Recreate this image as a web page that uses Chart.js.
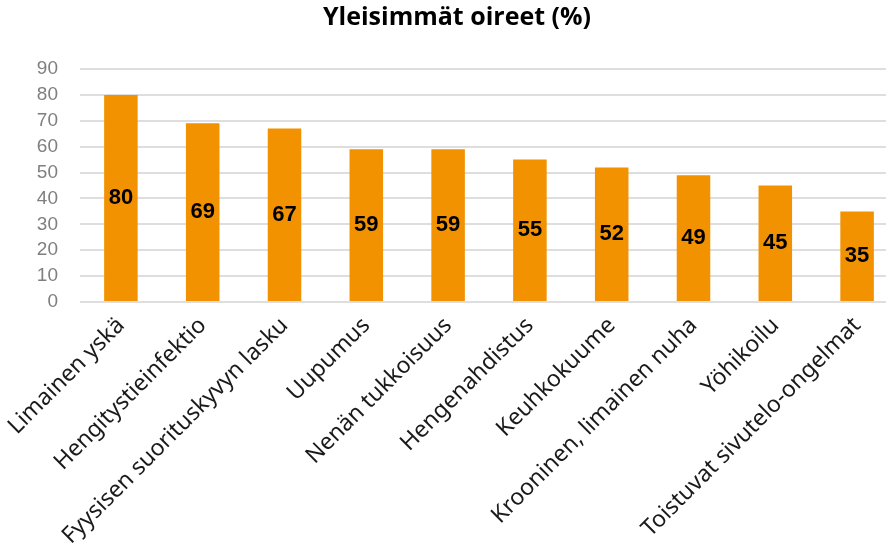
<!DOCTYPE html>
<html>
<head>
<meta charset="utf-8">
<script src="https://cdn.jsdelivr.net/npm/chart.js@4/dist/chart.umd.min.js"></script>
<style>
  html, body { margin: 0; padding: 0; background: #fff; overflow: hidden; }
  #wrap { width: 898px; height: 549px; }
</style>
</head>
<body>
<div id="wrap"><canvas id="symptomChart" width="898" height="549"></canvas></div>
<script>
// ─── data ───
const categories = [
    'Limainen yskä',
    'Hengitystieinfektio',
    'Fyysisen suorituskyvyn lasku',
    'Uupumus',
    'Nenän tukkoisuus',
    'Hengenahdistus',
    'Keuhkokuume',
    'Krooninen, limainen nuha',
    'Yöhikoilu',
    'Toistuvat sivutelo-ongelmat'
];
const percentages = [80, 69, 67, 59, 59, 55, 52, 49, 45, 35];
const yTicks = [0, 10, 20, 30, 40, 50, 60, 70, 80, 90];

// value labels drawn in the middle of each bar
const barValueLabels = {
    id: 'barValueLabels',
    afterDatasetsDraw(chart) {
        const { ctx } = chart;
        const meta = chart.getDatasetMeta(0);
        ctx.save();
        ctx.font = "bold 22px 'Liberation Sans', Arial, sans-serif";
        ctx.fillStyle = '#000';
        ctx.textAlign = 'center';
        ctx.textBaseline = 'middle';
        meta.data.forEach((bar, i) => {
            const mid = (bar.y + bar.base) / 2;
            ctx.fillText(String(percentages[i]), bar.x, mid);
        });
        ctx.restore();
    }
};

new Chart(document.getElementById('symptomChart'), {
    type: 'bar',
    data: {
        labels: categories,
        datasets: [{
            data: percentages,
            backgroundColor: '#f39200',
            barPercentage: 0.41,
            categoryPercentage: 1.0,
        }]
    },
    options: {
        responsive: false,
        animation: false,
        layout: { padding: { left: 16, right: 0, top: 0, bottom: 0 } },
        plugins: {
            legend: { display: false },
            tooltip: { enabled: false },
            title: {
                display: true,
                text: 'Yleisimmät oireet (%)',
                color: '#000',
                font: { family: "'Open Sans', sans-serif", size: 25, weight: 'bold' },
                padding: { top: 3, bottom: 36 },
            },
        },
        scales: {
            x: {
                grid: { display: false },
                border: { display: false },
                ticks: {
                    color: '#1a1a1a',
                    font: { family: "'Noto Sans', sans-serif", size: 23 },
                    maxRotation: 45,
                    minRotation: 45,
                    autoSkip: false,
                    padding: 2,
                },
                // let the rotated labels hang into the y-axis area like the original
                afterFit(scale) {
                    scale.paddingLeft = 0;
                    scale.paddingRight = 0;
                    scale.height = 247;
                },
            },
            y: {
                min: 0,
                max: 90,
                afterBuildTicks(axis) {
                    axis.ticks = yTicks.map(v => ({ value: v }));
                },
                afterFit(scale) {
                    scale.width = 64;
                },
                grid: {
                    color: '#dedede',
                    lineWidth: 2,
                    drawTicks: false,
                },
                border: { display: false },
                ticks: {
                    color: '#7f7f7f',
                    font: { family: "'Liberation Sans', Arial, sans-serif", size: 19 },
                    padding: 22,
                    autoSkip: false,
                },
            },
        },
    },
    plugins: [barValueLabels],
});
</script>
</body>
</html>
